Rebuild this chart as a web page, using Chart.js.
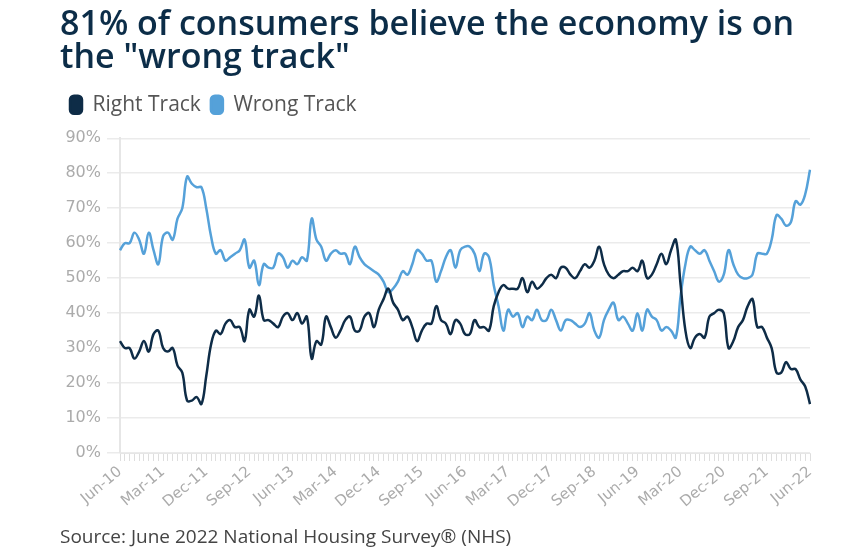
<!DOCTYPE html>
<html>
<head>
<meta charset="utf-8">
<script src="https://cdn.jsdelivr.net/npm/chart.js@4"></script>
<style>
  body { margin: 0; background: #fff; }
  #caixa { width: 853px; height: 555px; position: relative; }
</style>
</head>
<body>
<div id="caixa"><canvas id="grafico_linhas"></canvas></div>
<script>
// meses de Jun-10 ate Jun-22 (145 pontos)
var nomesMeses = ['Jan','Feb','Mar','Apr','May','Jun','Jul','Aug','Sep','Oct','Nov','Dec'];
var categorias = [];
for (var i = 0; i < 145; i++) {
    var m = (5 + i) % 12;
    var a = 10 + Math.floor((5 + i) / 12);
    categorias.push(nomesMeses[m] + '-' + a);
}

// rotulos que aparecem no eixo x
var rotulosEixo = ['Jun-10','Mar-11','Dec-11','Sep-12','Jun-13','Mar-14','Dec-14','Sep-15','Jun-16',
                   'Mar-17','Dec-17','Sep-18','Jun-19','Mar-20','Dec-20','Sep-21','Jun-22'];

var rotulosY = [0, 10, 20, 30, 40, 50, 60, 70, 80, 90];

var rightTrack = [
    32,30,30,27,29,32,29,34,35,30,29,30,25,23,15,15,16,14,22,31,35,34,37,38,
    36,36,32,41,39,45,38,38,37,36,39,40,38,40,37,39,27,32,31,39,36,33,35,38,
    39,35,35,39,40,36,41,44,47,43,41,38,39,36,32,35,37,37,42,38,37,34,38,37,
    34,34,38,36,36,35,42,46,48,47,47,47,50,46,49,47,48,50,51,50,53,53,51,50,
    52,54,53,55,59,54,51,50,51,52,52,53,52,55,50,51,54,57,54,58,61,48,35,30,
    33,34,33,39,40,41,40,30,32,36,38,42,44,36,36,33,30,23,23,26,24,24,21,19,
    14
];

var wrongTrack = [
    58,60,60,63,61,57,63,58,54,62,63,61,67,70,79,77,76,76,70,62,57,58,55,56,
    57,58,61,53,55,48,54,53,53,57,56,53,55,54,56,55,67,61,59,55,57,58,57,57,
    54,59,56,54,53,52,51,49,46,47,49,52,51,54,58,57,55,55,49,52,56,58,53,58,
    59,59,57,52,57,56,48,42,35,41,39,40,36,39,38,41,38,38,41,38,35,38,38,37,
    36,37,40,35,33,38,41,43,38,39,37,35,40,35,41,39,38,35,36,35,33,45,54,59,
    58,57,58,55,52,49,51,58,54,51,50,50,51,57,57,57,61,68,67,65,66,72,71,74,
    81
];

var corEscura = '#0e2c47';
var corClara = '#55a1d9';
var fonteEixo = 'DejaVu Sans';
var fonteTexto = 'Open Sans';

// espaco extra abaixo da legenda
const espacoLegenda = {
    id: 'espacoLegenda',
    beforeInit: function (chart) {
        const fitOriginal = chart.legend.fit;
        chart.legend.fit = function () {
            fitOriginal.bind(chart.legend)();
            this.height += 13;
        };
    }
};

const ctx = document.getElementById('grafico_linhas').getContext('2d');

new Chart(ctx, {
    type: 'line',
    data: {
        labels: categorias,
        datasets: [{
            label: 'Right Track',
            data: rightTrack,
            borderColor: corEscura,
            backgroundColor: corEscura,
            borderWidth: 2.5,
            tension: 0.4,
            pointRadius: 0,
            fill: false
        }, {
            label: 'Wrong Track',
            data: wrongTrack,
            borderColor: corClara,
            backgroundColor: corClara,
            borderWidth: 2.5,
            tension: 0.4,
            pointRadius: 0,
            fill: false
        }]
    },
    plugins: [espacoLegenda],
    options: {
        responsive: true,
        maintainAspectRatio: false,
        animation: false,
        layout: {
            padding: { left: 60, right: 43, top: 9, bottom: 6 }
        },
        plugins: {
            title: {
                display: true,
                text: ['81% of consumers believe the economy is on', 'the "wrong track"'],
                align: 'start',
                color: '#0c2d48',
                font: { family: fonteTexto, size: 34, weight: 600, lineHeight: 0.96 },
                padding: { top: 0, bottom: 10 }
            },
            subtitle: {
                display: true,
                position: 'bottom',
                text: 'Source: June 2022 National Housing Survey\u00ae (NHS)',
                align: 'start',
                color: '#444444',
                font: { family: fonteTexto, size: 19, weight: 400 },
                padding: { top: 13, bottom: 0 }
            },
            legend: {
                display: true,
                align: 'start',
                labels: {
                    boxWidth: 12,
                    boxHeight: 18,
                    useBorderRadius: true,
                    borderRadius: 4,
                    color: '#555555',
                    padding: 10,
                    font: { family: fonteTexto, size: 21 }
                }
            },
            tooltip: { enabled: false }
        },
        scales: {
            x: {
                grid: {
                    display: true,
                    drawOnChartArea: false,
                    drawTicks: true,
                    tickLength: 8,
                    color: '#dedede'
                },
                border: { display: true, color: '#e6e6e6' },
                ticks: {
                    autoSkip: false,
                    minRotation: 40,
                    maxRotation: 40,
                    padding: 2,
                    color: '#ababab',
                    font: { family: fonteEixo, size: 15 },
                    callback: function (valor, indice) {
                        var nome = categorias[indice];
                        return rotulosEixo.indexOf(nome) >= 0 ? nome : '';
                    }
                }
            },
            y: {
                min: rotulosY[0],
                max: rotulosY[rotulosY.length - 1],
                afterFit: function (eixo) {
                    eixo.width = 60;
                },
                grid: {
                    color: '#ebebeb',
                    tickLength: 13,
                    lineWidth: 1.5
                },
                border: { display: true, color: '#e6e6e6', width: 2 },
                ticks: {
                    stepSize: 10,
                    padding: 6,
                    color: '#ababab',
                    font: { family: fonteEixo, size: 16 },
                    callback: function (valor) {
                        return valor + '%';
                    }
                }
            }
        }
    }
});
</script>
</body>
</html>
